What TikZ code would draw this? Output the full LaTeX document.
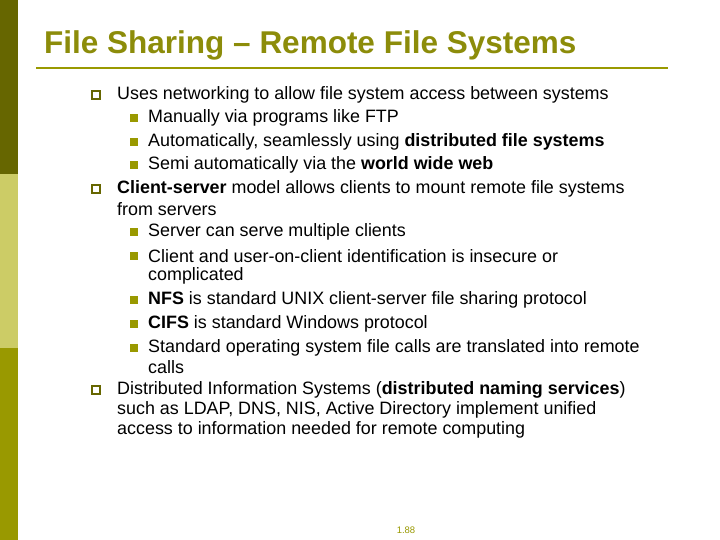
\documentclass[tikz,border=0pt]{standalone}
\usepackage{fontspec}
\setmainfont{Liberation Sans}
\definecolor{darkol}{HTML}{666600}
\definecolor{lightol}{HTML}{CCCC66}
\definecolor{midol}{HTML}{999900}
\definecolor{titol}{HTML}{8C8C0A}
\begin{document}
\begin{tikzpicture}[x=1pt,y=-1pt,
  txt/.style={anchor=west,inner sep=0pt,font=\fontsize{17.9}{20}\selectfont},
  hol/.style={draw=darkol,line width=1.4pt,minimum size=8pt,inner sep=0pt},
  fil/.style={fill=midol,minimum size=8pt,inner sep=0pt}]
\useasboundingbox (0,0) rectangle (720,540);
\fill[white] (0,0) rectangle (720,540);
\fill[darkol] (0,0) rectangle (18,174);
\fill[lightol] (0,174) rectangle (18,348);
\fill[midol] (0,348) rectangle (18,540);
\node[anchor=west,inner sep=0pt,text=titol,font=\fontsize{31.5}{34}\selectfont\bfseries] (title) at (44,45) {File Sharing – Remote File Systems};
\draw[midol,line width=1.5pt] (36,68) -- (668,68);
% main bullets
\node[hol] (b1) at (96,95) {};
\node[hol] (b2) at (96,189) {};
\node[hol] (b3) at (96,390) {};
% sub bullets
\foreach \y/\n in {118/s1,142/s2,165/s3,232/s4,256/s5,300/s6,324/s7,348/s8}
  \node[fil] (\n) at (134,\y) {};
\node[txt] (t1) at (117,95) {Uses networking to allow file system access between systems};
\node[txt] (t2) at (148,118) {Manually via programs like FTP};
\node[txt] (t3) at (148,142) {Automatically, seamlessly using \textbf{distributed file systems}};
\node[txt] (t4) at (148,165) {Semi automatically via the \textbf{world wide web}};
\node[txt] (t5) at (117,189) {\textbf{Client-server} model allows clients to mount remote file systems};
\node[txt] (t5b) at (117,209) {from servers};
\node[txt] (t6) at (148,232) {Server can serve multiple clients};
\node[txt] (t7) at (148,256) {Client and user-on-client identification is insecure or};
\node[txt] (t7b) at (148,276) {complicated};
\node[txt] (t8) at (148,300) {\textbf{NFS} is standard UNIX client-server file sharing protocol};
\node[txt] (t9) at (148,324) {\textbf{CIFS} is standard Windows protocol};
\node[txt] (t10) at (148,348) {Standard operating system file calls are translated into remote};
\node[txt] (t10b) at (148,367) {calls};
\node[txt] (t11) at (117,390) {Distributed Information Systems (\textbf{distributed naming services})};
\node[txt] (t11b) at (117,410) {such as LDAP, DNS, NIS, Active Directory implement unified};
\node[txt] (t11c) at (117,430) {access to information needed for remote computing};
\node[text=midol,font=\fontsize{9.5}{10}\selectfont,inner sep=0pt] (pg) at (406,530) {1.88};
\end{tikzpicture}
\end{document}
